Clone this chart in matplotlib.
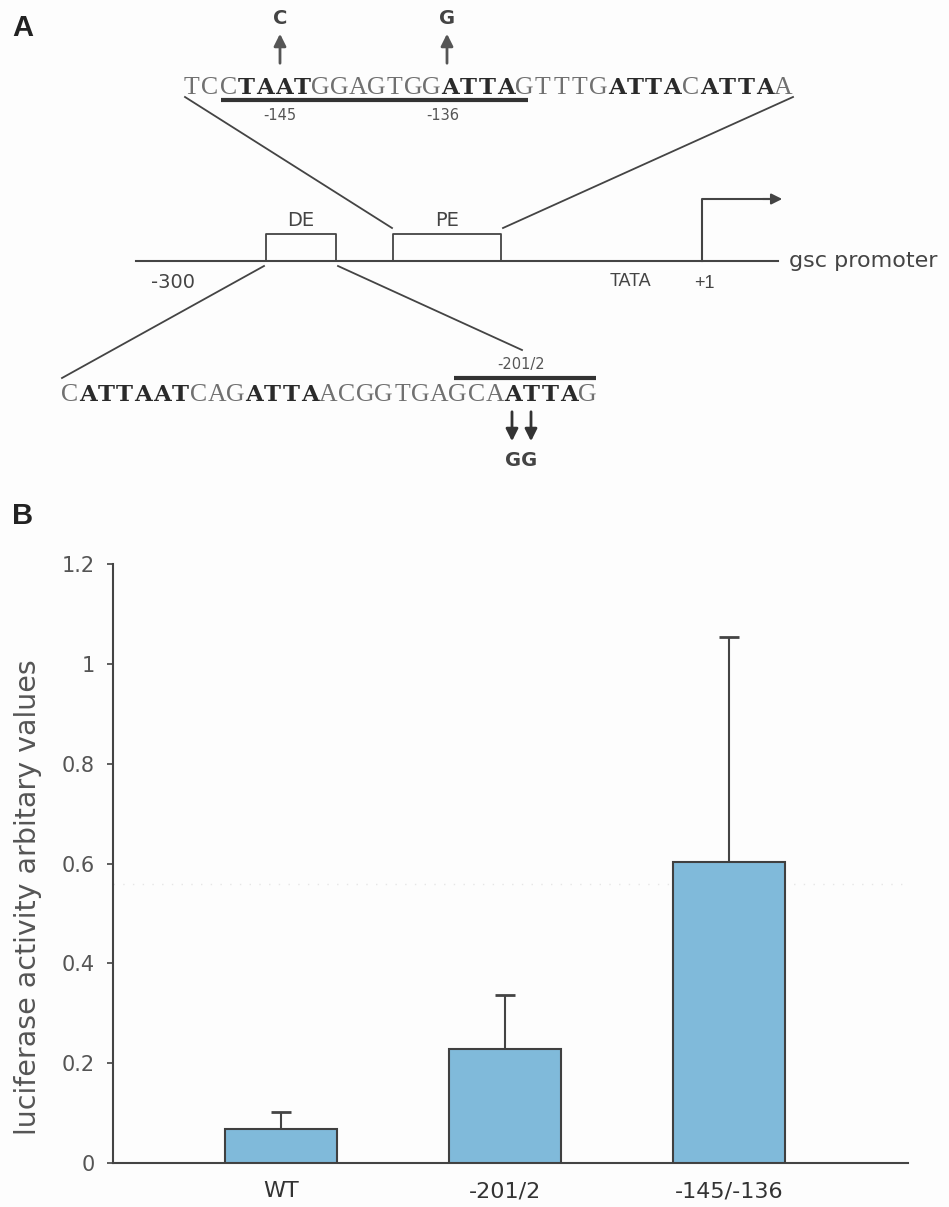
import matplotlib
matplotlib.use("Agg")
import matplotlib.pyplot as plt
from matplotlib.ticker import FixedLocator, FixedFormatter

# ---------------- data ----------------
categories = ["WT", "-201/2", "-145/-136"]
values = [0.068, 0.229, 0.604]
errors = [0.035, 0.107, 0.450]
ytick_vals = [0, 0.2, 0.4, 0.6, 0.8, 1.0, 1.2]
ytick_labels = ["0", "0.2", "0.4", "0.6", "0.8", "1", "1.2"]

upper_seq = [("TCC", False), ("TAAT", True), ("GGAGTGG", False), ("ATTA", True),
             ("GTTTG", False), ("ATTA", True), ("C", False), ("ATTA", True), ("A", False)]
lower_seq = [("C", False), ("ATTAAT", True), ("CAG", False), ("ATTA", True),
             ("ACGGTGAG", False), ("CA", False), ("ATTA", True), ("G", False)]

W, H = 949, 1207
fig = plt.figure(figsize=(W / 100, H / 100), dpi=100)
fig.patch.set_facecolor("#fdfdfd")

# ---------------- panel A (schematic, pixel coordinates) ----------------
ov = fig.add_axes([0, 0, 1, 1])
ov.set_xlim(0, W)
ov.set_ylim(H, 0)
ov.axis("off")
ov.patch.set_alpha(0)

dark = "#2a2a2a"
light = "#707070"
lc = "#444444"
sans = "Liberation Sans"
dv = "DejaVu Sans"

fig.text(12 / W, 1 - 28 / H, "A", fontsize=21, fontweight="bold", family=sans,
         color="#222222", va="center", ha="left")
fig.text(12 / W, 1 - 516 / H, "B", fontsize=21, fontweight="bold", family=sans,
         color="#222222", va="center", ha="left")


def draw_seq(segments, x0, y, cw):
    i = 0
    for s, bold in segments:
        for ch in s:
            if bold:
                ov.text(x0 + (i + 0.5) * cw, y, ch, family="DejaVu Serif", fontsize=16.5,
                        fontweight="bold", color=dark, ha="center", va="center")
            else:
                ov.text(x0 + (i + 0.5) * cw, y, ch, family="Liberation Serif", fontsize=18.5,
                        color=light, ha="center", va="center")
            i += 1


draw_seq(upper_seq, 182, 88, 18.5)
draw_seq(lower_seq, 60, 395, 18.5)

# underline / overline
ov.plot([221, 528], [100, 100], color="#333333", lw=3, solid_capstyle="butt")
ov.plot([454, 596], [378, 378], color="#333333", lw=3, solid_capstyle="butt")
ov.text(280, 115, "-145", family=dv, fontsize=10.5, color="#555555", ha="center", va="center")
ov.text(443, 115, "-136", family=dv, fontsize=10.5, color="#555555", ha="center", va="center")
ov.text(521, 364, "-201/2", family=dv, fontsize=10.5, color="#555555", ha="center", va="center")

# mutation arrows (upper)
for x, lab in [(280, "C"), (447, "G")]:
    ov.annotate("", xy=(x, 31), xytext=(x, 66),
                arrowprops=dict(arrowstyle="-|>", color="#555555", lw=2, mutation_scale=18))
    ov.text(x, 19, lab, family=dv, fontsize=14, fontweight="bold", color="#444444",
            ha="center", va="center")
# mutation arrows (lower)
for x in [512, 531]:
    ov.annotate("", xy=(x, 444), xytext=(x, 409),
                arrowprops=dict(arrowstyle="-|>", color="#333333", lw=2, mutation_scale=18))
ov.text(521, 461, "GG", family=dv, fontsize=14, fontweight="bold", color="#444444",
        ha="center", va="center")

# promoter line
ov.plot([136, 778], [261, 261], color=lc, lw=1.5)
ov.text(789, 261, "gsc promoter", family=dv, fontsize=16, color="#444444", ha="left", va="center")
# boxes
for (xa, xb), lab in [((266, 336), "DE"), ((393, 501), "PE")]:
    ov.plot([xa, xa, xb, xb], [261, 234, 234, 261], color=lc, lw=1.3)
    ov.text((xa + xb) / 2, 220, lab, family=dv, fontsize=14, color="#444444",
            ha="center", va="center")
ov.text(173, 282, "-300", family=dv, fontsize=14, color="#444444", ha="center", va="center")
ov.text(630, 282, "TATA", family=sans, fontsize=13, color="#444444", ha="center", va="center")
ov.text(704, 283, "+1", family=sans, fontsize=13, color="#444444", ha="center", va="center")
# TSS arrow
ov.plot([702, 702, 770], [261, 199, 199], color=lc, lw=1.5)
ov.annotate("", xy=(785, 199), xytext=(760, 199),
            arrowprops=dict(arrowstyle="-|>", color="#444444", lw=1.5, mutation_scale=16))
# zoom diagonals
ov.plot([185, 392], [97, 228], color=lc, lw=1.3)
ov.plot([793, 503], [97, 228], color=lc, lw=1.3)
ov.plot([264, 62], [266, 378], color=lc, lw=1.3)
ov.plot([338, 522], [266, 350], color=lc, lw=1.3)

# ---------------- panel B (bar chart) ----------------
ax = fig.add_axes([113 / W, 1 - 1163 / H, (908 - 113) / W, (1163 - 564) / H])
ax.patch.set_alpha(0)
x = list(range(len(categories)))
ax.bar(x, values, width=0.5, color="#80bada", edgecolor="#404040", linewidth=1.5, zorder=3)
ax.errorbar(x, values, yerr=[[0] * len(errors), errors], fmt="none", ecolor="#444444",
            elinewidth=1.5, capsize=7, capthick=2, zorder=2)
ax.axhline(0.558, color="#e6e6e6", lw=1, ls=(0, (1, 6)), zorder=1)
ax.set_xlim(-0.75, 2.8)
ax.set_ylim(0, 1.2)
ax.yaxis.set_major_locator(FixedLocator(ytick_vals))
ax.yaxis.set_major_formatter(FixedFormatter(ytick_labels))
ax.set_xticks(x)
ax.set_xticklabels(categories, family=dv, fontsize=16, color="#333333")
for lab in ax.get_yticklabels():
    lab.set_family(dv)
    lab.set_fontsize(15)
    lab.set_color("#555555")
ax.tick_params(axis="x", length=0, pad=13)
ax.tick_params(axis="y", length=4, width=1.2, color="#444444", pad=9)
for s in ["top", "right"]:
    ax.spines[s].set_visible(False)
for s in ["left", "bottom"]:
    ax.spines[s].set_color("#444444")
    ax.spines[s].set_linewidth(1.5)

fig.text(28 / W, 1 - 897 / H, "luciferase activity arbitary values", rotation=90,
         family=dv, fontsize=20.5, color="#555555", ha="center", va="center")

fig.savefig("out.png", dpi=100, facecolor=fig.get_facecolor())
